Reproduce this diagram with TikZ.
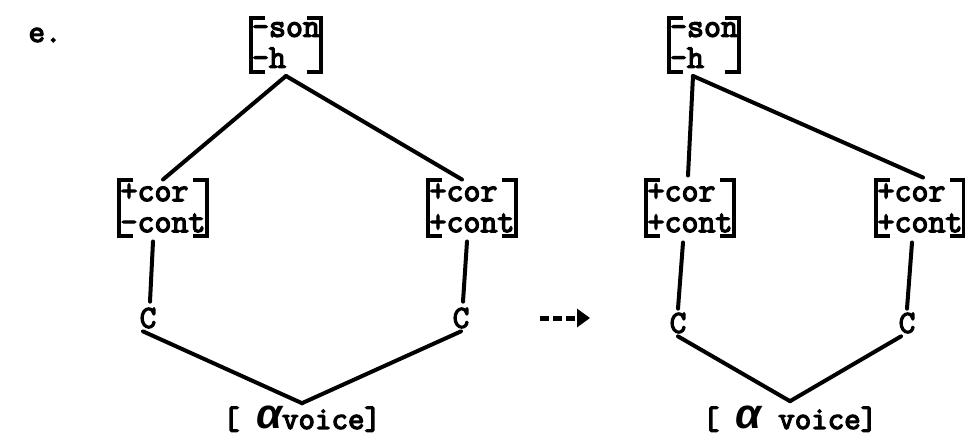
\documentclass[tikz,border=0pt]{standalone}
\usepackage{fontspec}
\newfontfamily\alphafont{Liberation Sans}
\newfontfamily\tw{Latin Modern Mono}[FakeBold=4]
\usetikzlibrary{arrows.meta}
\tikzset{
  feat/.style={inner xsep=1pt, inner ysep=4pt, align=left, font=\fontsize{33}{31}\selectfont\tw},
  seg/.style={line width=4pt, line cap=round},
  brk/.style={line width=4pt},
  lab/.style={font=\fontsize{32}{30}\selectfont\tw, inner sep=1pt},
}
\newcommand{\brackets}[1]{%
  \draw[brk] ([xshift=14pt]#1.north west) -- (#1.north west) -- (#1.south west) -- ([xshift=14pt]#1.south west);
  \draw[brk] ([xshift=-14pt]#1.north east) -- (#1.north east) -- (#1.south east) -- ([xshift=-14pt]#1.south east);}
\newcommand{\myalpha}{{\alphafont\fontsize{42}{42}\selectfont\bfseries\itshape α}}
\begin{document}
\begin{tikzpicture}[x=1pt,y=-1pt]
\useasboundingbox (0,0) rectangle (965,440);
\node[lab] (e) at (45,35) {e.};
% left tree
\node[feat] (t1) at (286,45) {-son\\-h~~};
\node[feat] (l1) at (163,208) {+cor~\\-cont};
\node[feat] (r1) at (472,208) {+cor~\\+cont};
\node[lab] (c1) at (148,318) {C};
\node[lab] (c2) at (461,318) {C};
\node[lab] (v1) at (302,419) {[ \myalpha voice]};
\brackets{t1}\brackets{l1}\brackets{r1}
\coordinate (a1) at ([yshift=-4pt]t1.south);
\draw[seg] (a1) -- (l1.north);
\draw[seg] (a1) -- ([xshift=-10pt]r1.north);
\draw[seg] ([yshift=-5pt,xshift=-10pt]l1.south) -- ([xshift=2pt,yshift=5pt]c1.north);
\draw[seg] ([yshift=-5pt,xshift=-5pt]r1.south) -- ([xshift=2pt,yshift=5pt]c2.north);
\coordinate (b1) at ([yshift=2pt]v1.north);
\draw[seg] ([xshift=-5pt,yshift=-2pt]c1.south) -- (b1);
\draw[seg] ([yshift=-2pt]c2.south) -- (b1);
% arrow
\coordinate (p) at (540,318);
\coordinate (q) at (590,318);
\draw[line width=5pt, dash pattern=on 9pt off 4pt, -{Triangle[length=13pt,width=18pt]}] (p) -- (q);
% right tree
\node[feat] (t2) at (704,45) {-son\\-h~~};
\node[feat] (l2) at (690,208) {+cor~\\+cont};
\node[feat] (r2) at (920,208) {+cor~\\+cont};
\node[lab] (c3) at (678,323) {C};
\node[lab] (c4) at (907,323) {C};
\node[lab] (v2) at (790,419) {[ \myalpha{} voice]};
\brackets{t2}\brackets{l2}\brackets{r2}
\coordinate (a2) at ([yshift=-4pt,xshift=-11pt]t2.south);
\draw[seg] (a2) -- ([yshift=4pt,xshift=-2pt]l2.north);
\draw[seg] (a2) -- ([xshift=3pt,yshift=2pt]r2.north);
\draw[seg] ([yshift=-6pt,xshift=-7pt]l2.south) -- ([yshift=3pt]c3.north);
\draw[seg] ([yshift=-6pt,xshift=-8pt]r2.south) -- ([yshift=3pt]c4.north);
\coordinate (b2) at ([yshift=4pt]v2.north);
\draw[seg] ([yshift=-2pt]c3.south) -- (b2);
\draw[seg] ([xshift=-6pt,yshift=-2pt]c4.south) -- (b2);
\end{tikzpicture}
\end{document}
